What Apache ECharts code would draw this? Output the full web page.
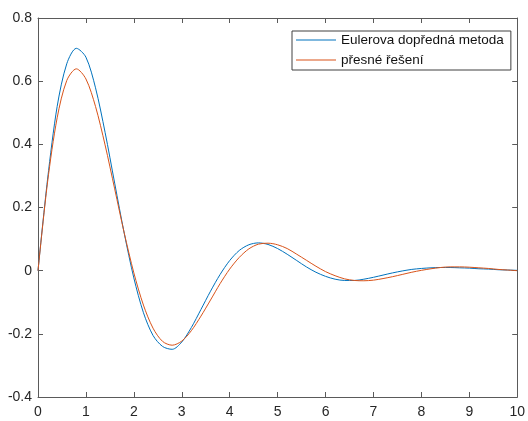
<!DOCTYPE html>
<html>
<head>
<meta charset="utf-8">
<script src="https://cdn.jsdelivr.net/npm/echarts@6/dist/echarts.min.js"></script>
<style>
html,body{margin:0;padding:0;background:#fff;}
#chart{width:528px;height:421px;}
</style>
</head>
<body>
<div id="chart"></div>
<script>
// time samples
var tValues = [0,0.2,0.4,0.6,0.8,1.0,1.2,1.4,1.6,1.8,2.0,2.2,2.4,2.6,2.8,3.0,3.2,3.4,3.6,3.8,4.0,4.2,4.4,4.6,4.8,5.0,5.2,5.4,5.6,5.8,6.0,6.2,6.4,6.6,6.8,7.0,7.2,7.4,7.6,7.8,8.0,8.2,8.4,8.6,8.8,9.0,9.2,9.4,9.6,9.8,10.0];
// Eulerova dopředná metoda
var eulerValues = [0,0.29,0.52,0.655,0.704,0.676,0.579,0.438,0.277,0.118,-0.023,-0.133,-0.205,-0.240,-0.249,-0.226,-0.180,-0.123,-0.065,-0.012,0.032,0.064,0.082,0.088,0.083,0.070,0.052,0.032,0.012,-0.005,-0.018,-0.027,-0.031,-0.031,-0.027,-0.021,-0.014,-0.007,-0.001,0.004,0.007,0.009,0.010,0.010,0.009,0.008,0.006,0.005,0.003,0.002,0.001];
// přesné řešení
var exactValues = [0,0.281,0.484,0.602,0.639,0.607,0.520,0.398,0.259,0.119,-0.007,-0.109,-0.182,-0.224,-0.236,-0.223,-0.190,-0.144,-0.093,-0.041,0.005,0.042,0.069,0.084,0.087,0.082,0.070,0.052,0.033,0.014,-0.003,-0.016,-0.026,-0.031,-0.032,-0.030,-0.025,-0.019,-0.012,-0.005,0.001,0.006,0.010,0.012,0.012,0.011,0.009,0.007,0.004,0.002,0.000];
var xTicks = {min:0, max:10, interval:1};
var yTicks = {min:-0.4, max:0.8, interval:0.2};
var seriesNames = ['Eulerova dopředná metoda','přesné řešení'];

function pairs(xs, ys){ return xs.map(function(x,i){ return [x, ys[i]]; }); }

var FONT = '"Liberation Sans", Arial, Helvetica, sans-serif';
var AX = '#5a5a5a';
var TXT = '#262626';

var chart = echarts.init(document.getElementById('chart'), null, {renderer:'canvas'});
chart.setOption({
  animation:false,
  backgroundColor:'#ffffff',
  grid:{left:38, right:10, top:18, bottom:24, containLabel:false},
  legend:{
    show:true,
    orient:'vertical',
    left:292, top:31,
    padding:[2,7,3,4],
    itemGap:6,
    itemWidth:40, itemHeight:1,
    icon:'rect',
    backgroundColor:'#ffffff',
    borderColor:'#404040', borderWidth:1,
    textStyle:{fontFamily:FONT, fontSize:13.5, color:'#111111'},
    data:seriesNames
  },
  xAxis:[{
    type:'value', position:'bottom', min:xTicks.min, max:xTicks.max, interval:xTicks.interval,
    axisLine:{show:true, onZero:false, lineStyle:{color:AX, width:1}},
    axisTick:{show:true, inside:true, length:5, lineStyle:{color:AX}},
    axisLabel:{fontFamily:FONT, fontSize:14, color:TXT, margin:8},
    splitLine:{show:false}
  },{
    type:'value', position:'top', min:xTicks.min, max:xTicks.max, interval:xTicks.interval,
    axisLine:{show:true, onZero:false, lineStyle:{color:AX, width:1}},
    axisTick:{show:true, inside:true, length:5, lineStyle:{color:AX}},
    axisLabel:{show:false}, splitLine:{show:false}
  }],
  yAxis:[{
    type:'value', position:'left', min:yTicks.min, max:yTicks.max, interval:yTicks.interval,
    axisLine:{show:true, onZero:false, lineStyle:{color:AX, width:1}},
    axisTick:{show:true, inside:true, length:5, lineStyle:{color:AX}},
    axisLabel:{fontFamily:FONT, fontSize:14, color:TXT, margin:6,
      formatter:function(v){ return String(Math.round(v*10)/10); }},
    splitLine:{show:false}
  },{
    type:'value', position:'right', min:yTicks.min, max:yTicks.max, interval:yTicks.interval,
    axisLine:{show:true, onZero:false, lineStyle:{color:AX, width:1}},
    axisTick:{show:true, inside:true, length:5, lineStyle:{color:AX}},
    axisLabel:{show:false}, splitLine:{show:false}
  }],
  series:[{
    name:seriesNames[0], type:'line', xAxisIndex:0, yAxisIndex:0,
    data:pairs(tValues, eulerValues), smooth:0.3, showSymbol:false, symbol:'none',
    lineStyle:{color:'#0072BD', width:1}, itemStyle:{color:'#0072BD'}
  },{
    name:seriesNames[1], type:'line', xAxisIndex:0, yAxisIndex:0,
    data:pairs(tValues, exactValues), smooth:0.3, showSymbol:false, symbol:'none',
    lineStyle:{color:'#D95319', width:1}, itemStyle:{color:'#D95319'}
  }]
});
</script>
</body>
</html>
